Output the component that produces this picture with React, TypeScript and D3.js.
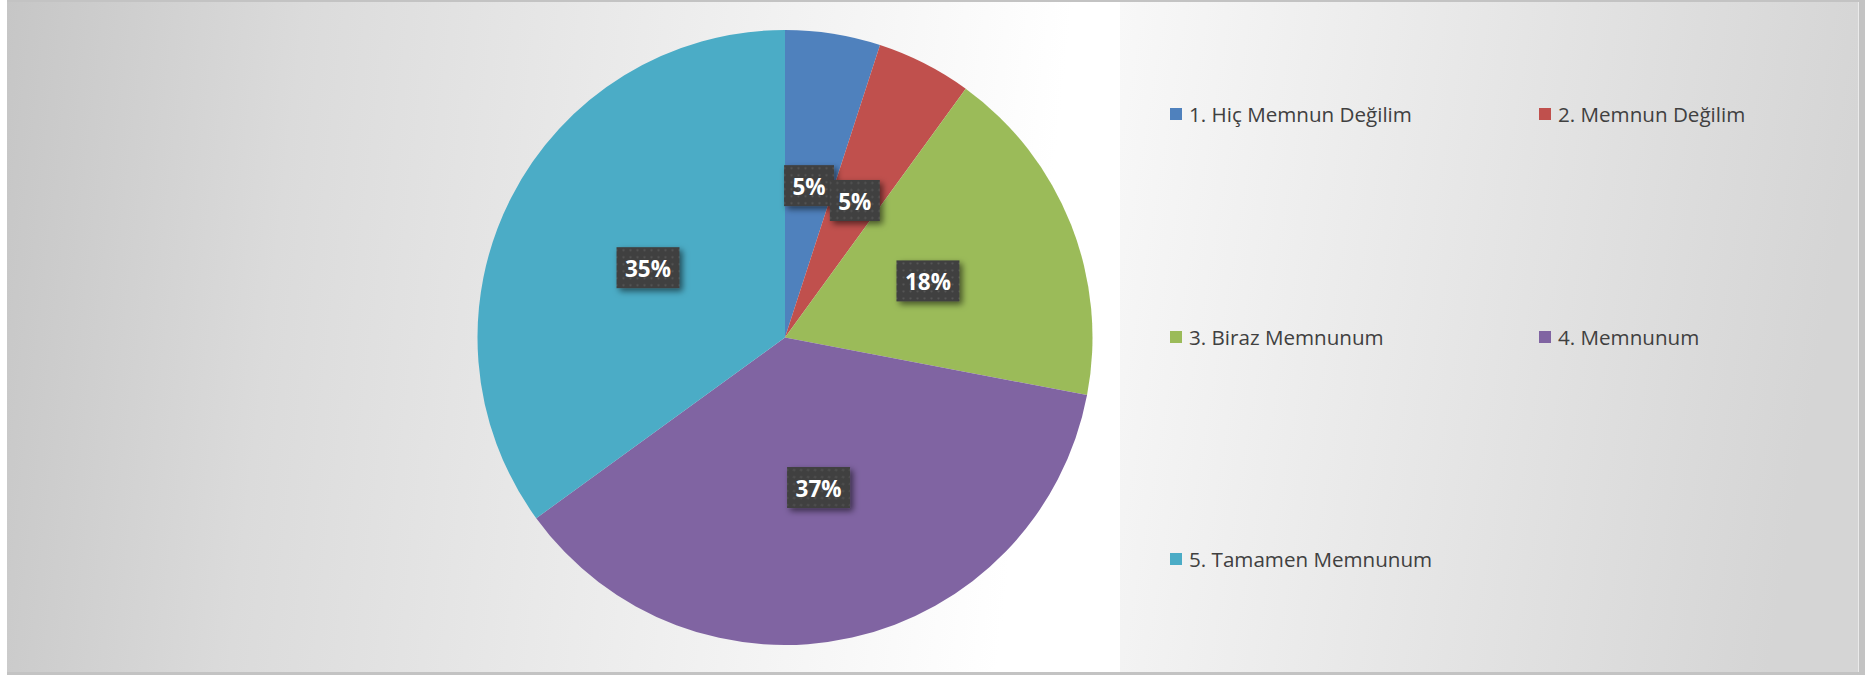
import React from "react";
import * as d3 from "d3";

const categories = [
  "1. Hiç Memnun Değilim",
  "2. Memnun Değilim",
  "3. Biraz Memnunum",
  "4. Memnunum",
  "5. Tamamen Memnunum",
];
const values = [5, 5, 18, 37, 35];
const colors = ["#4f81bd", "#c0504d", "#9bbb59", "#8064a2", "#4bacc6"];

const W = 1865;
const H = 675;
const CX = 785;
const CY = 337.5;
const R = 307.5;

export default function App() {
  const pie = d3.pie<number>().sort(null).value((d) => d)(values);
  const arc = d3.arc<d3.PieArcDatum<number>>().innerRadius(0).outerRadius(R);
  const total = d3.sum(values);
  const fmt = (v: number) => `${Math.round((v / total) * 100)}%`;

  const colX = [1170, 1539];
  const rowY = [114, 337, 559];

  return (
    <div style={{ position: "absolute", left: 0, top: 0 }}>
      <svg width={W} height={H} style={{ display: "block" }}>
        <defs>
          <linearGradient id="bgMain" gradientUnits="userSpaceOnUse" x1={7} y1={0} x2={1060} y2={120}>
            <stop offset="0" stopColor="#c6c6c6" />
            <stop offset="0.28" stopColor="#dbdbdb" />
            <stop offset="1" stopColor="#ffffff" />
          </linearGradient>
          <linearGradient id="bgLegend" gradientUnits="userSpaceOnUse" x1={1120} y1={0} x2={1858} y2={120}>
            <stop offset="0" stopColor="#f8f8f8" />
            <stop offset="1" stopColor="#d5d5d5" />
          </linearGradient>
          <pattern id="dots" width="7" height="7" patternUnits="userSpaceOnUse">
            <rect width="7" height="7" fill="#404040" />
            <circle cx="3.5" cy="3.5" r="1.1" fill="#575757" />
          </pattern>
          <filter id="shadow" x="-30%" y="-30%" width="170%" height="180%">
            <feDropShadow dx="3" dy="3" stdDeviation="3" floodColor="#000" floodOpacity="0.55" />
          </filter>
        </defs>

        <rect x={0} y={0} width={W} height={H} fill="#ffffff" />
        <rect x={7} y={0} width={W - 7} height={H} fill="#c3c3c3" />
        <rect x={7} y={2} width={1852} height={670} fill="url(#bgMain)" />
        <rect x={1120} y={2} width={738.5} height={670} fill="url(#bgLegend)" />

        <g transform={`translate(${CX},${CY})`}>
          {pie.map((p, i) => (
            <path key={i} d={arc(p) || ""} fill={colors[i]} />
          ))}
          {pie.map((p, i) => {
            const [x, y] = arc.centroid(p);
            const label = fmt(p.value);
            const tw = label.length === 2 ? 32 : 45;
            const bw = tw + 18;
            const bh = 41;
            return (
              <g key={`l${i}`} transform={`translate(${x},${y})`}>
                <rect
                  x={-bw / 2}
                  y={-bh / 2}
                  width={bw}
                  height={bh}
                  fill="url(#dots)"
                  filter="url(#shadow)"
                />
                <text
                  x={0}
                  y={1}
                  textAnchor="middle"
                  dominantBaseline="central"
                  fill="#ffffff"
                  fontFamily="'Open Sans', sans-serif"
                  fontWeight={700}
                  fontSize={22.5}
                >
                  {label}
                </text>
              </g>
            );
          })}
        </g>

        <g>
          {categories.map((c, i) => {
            const x = colX[i % 2];
            const y = rowY[Math.floor(i / 2)];
            return (
              <g key={c} transform={`translate(${x},${y})`}>
                <rect x={0} y={-6} width={12} height={12} fill={colors[i]} />
                <text
                  x={19}
                  y={0}
                  dominantBaseline="central"
                  fill="#404040"
                  fontFamily="'Open Sans', sans-serif"
                  fontSize={20.6}
                >
                  {c}
                </text>
              </g>
            );
          })}
        </g>
      </svg>
    </div>
  );
}
